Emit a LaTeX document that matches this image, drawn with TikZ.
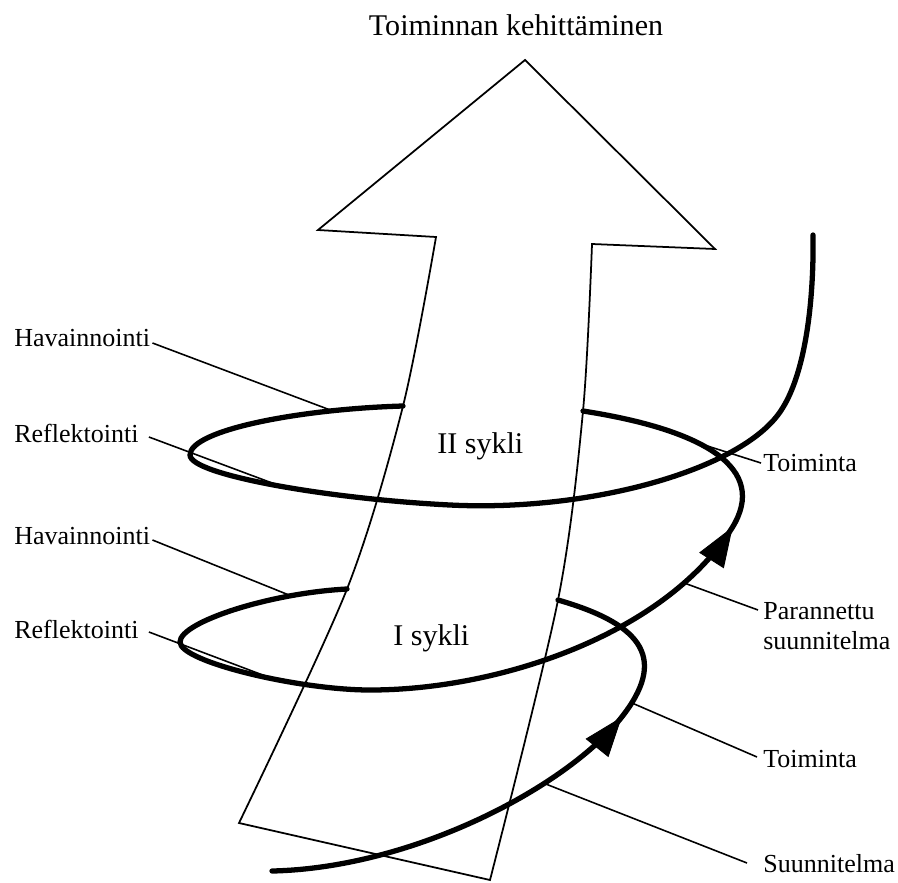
\documentclass[tikz,border=0pt]{standalone}
\usepackage{fontspec}
\setmainfont{Liberation Serif}
\usetikzlibrary{calc}
\begin{document}
\begin{tikzpicture}[x=0.02cm,y=-0.02cm,
  outline/.style={line width=1pt,line join=miter},
  coil/.style={line width=3pt,line cap=round},
  headfill/.style={fill=black,draw=black,line width=0.5pt,line join=miter},
  leader/.style={line width=0.9pt},
  lbl/.style={anchor=base west,inner sep=0pt,font=\fontsize{14.8}{17}\selectfont},
  cyc/.style={anchor=base west,inner sep=0pt,font=\fontsize{17.1}{20}\selectfont}]
\fill[white] (0,0) rectangle (898,882);
\useasboundingbox (0,0) rectangle (898,882);

% the broad arrow of development
\draw[outline] (525,60) -- (715,249) -- (592,244)
  -- plot[smooth] coordinates {(592,244) (583,411) (558,600) (490,880)}
  -- (239,823)
  -- plot[smooth] coordinates {(239,823) (347,589) (403,406) (436,237)}
  -- (318,230) -- cycle;

% first turn of the spiral
\draw[coil] (272,871) .. controls (412,868) and (565,788) .. (621,718)
  coordinate[pos=0.69] (plan)
  .. controls (667,660) and (645,625) .. (558,600)
  coordinate[pos=0.09] (act1);
\draw[coil] (347,589) .. controls (270,593) and (180,622) .. (180,642)
  coordinate[pos=0.24] (obs1)
  .. controls (180,662) and (300,690) .. (370,690)
  coordinate[pos=0.6] (refpt1)
  .. controls (500,690) and (665,634) .. (732,528)
  coordinate[pos=0.81] (better)
  .. controls (769,468.5) and (705,430) .. (583,411)
  coordinate[pos=0.6] (act2);

% second turn of the spiral
\draw[coil] (403,406) .. controls (300,409) and (190,430) .. (190,455)
  coordinate[pos=0.23] (obs2)
  .. controls (190,475) and (330,499) .. (450,505)
  coordinate[pos=0.52] (refpt2)
  .. controls (590,512) and (740,470) .. (780,412)
  .. controls (805.7,375) and (814,300) .. (813,235);

% direction heads on the spiral
\filldraw[headfill] (621,718) -- (608.2,756.4) -- (586.3,738.9) -- cycle;
\filldraw[headfill] (732,528) -- (723.5,567.6) -- (699.9,552.6) -- cycle;

% texts
\node[anchor=base,inner sep=0pt,font=\fontsize{17.1}{20}\selectfont] (title) at (516,36) {Toiminnan kehittäminen};
\node[cyc] (cyc2) at (437,453) {II sykli};
\node[cyc] (cyc1) at (393,645) {I sykli};
\node[lbl] (hav2) at (14,346) {Havainnointi};
\node[lbl] (ref2) at (14,442) {Reflektointi};
\node[lbl] (hav1) at (14,544) {Havainnointi};
\node[lbl] (ref1) at (14,638) {Reflektointi};
\node[lbl] (toi2) at (763,471) {Toiminta};
\node[lbl] (par) at (763,619) {Parannettu};
\node[lbl] (par2) at (763,649) {suunnitelma};
\node[lbl] (toi1) at (763,767) {Toiminta};
\node[lbl] (suu) at (763,872) {Suunnitelma};

% leader lines
\draw[leader] ($(hav2.base east)+(2,-3)$) -- (obs2);
\draw[leader] ($(ref2.base east)+(10,-5)$) -- (refpt2);
\draw[leader] ($(hav1.base east)+(2,-4)$) -- (obs1);
\draw[leader] ($(ref1.base east)+(10,-6)$) -- (refpt1);
\draw[leader] ($(toi2.base west)+(-2,-8)$) -- (act2);
\draw[leader] ($(par.base west)+(-5,-9)$) -- (better);
\draw[leader] ($(toi1.base west)+(-6,-10)$) -- (act1);
\draw[leader] ($(suu.base west)+(-16,-9)$) -- (plan);
\end{tikzpicture}
\end{document}
